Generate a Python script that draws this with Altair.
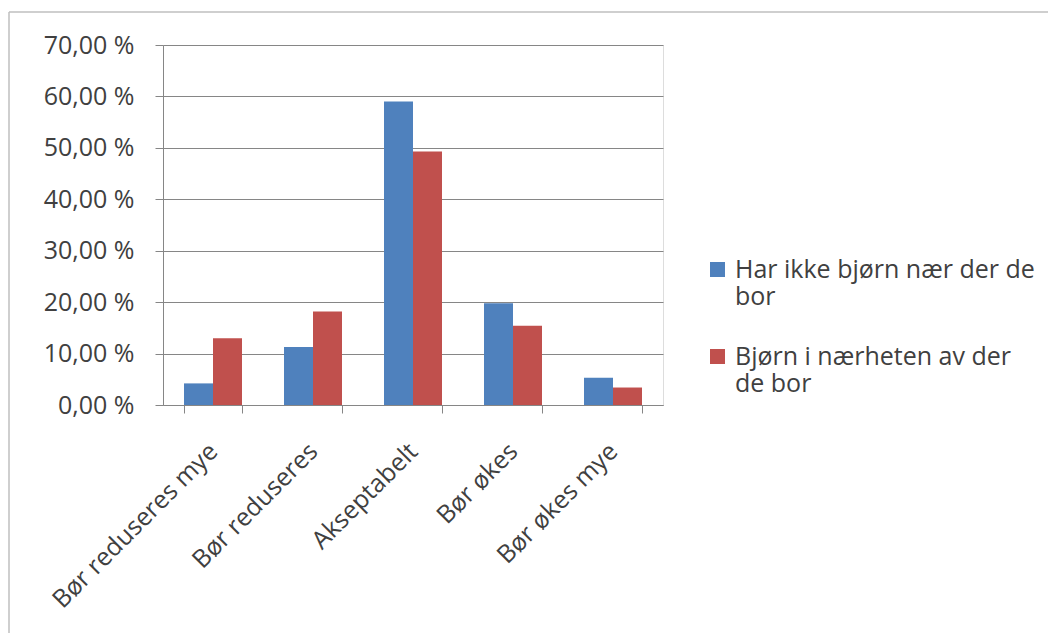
import altair as alt
import pandas as pd

categories = ["Bør reduseres mye", "Bør reduseres", "Akseptabelt", "Bør økes", "Bør økes mye"]
series = ["Har ikke bjørn nær der de bor", "Bjørn i nærheten av der de bor"]
har_ikke = [4.2, 11.3, 59.0, 19.8, 5.3]
naer = [13.0, 18.2, 49.3, 15.4, 3.4]
colors = ["#4F81BD", "#C0504D"]

rows = []
for i, c in enumerate(categories):
    rows.append({"kategori": c, "serie": series[0], "verdi": har_ikke[i]})
    rows.append({"kategori": c, "serie": series[1], "verdi": naer[i]})
df = pd.DataFrame(rows)

FONT = "Open Sans"
TXT = "#404040"
FS = 25

bars = alt.Chart(df).mark_bar().encode(
    x=alt.X("kategori:N", sort=categories, title=None,
            scale=alt.Scale(paddingInner=0.42, paddingOuter=0.21),
            axis=alt.Axis(labelAngle=-45, labelAlign="right", labelBaseline="middle",
                          labelPadding=34, tickBand="extent", tickSize=8, labelLimit=400,
                          domainColor="#868686", tickColor="#868686",
                          labelFont=FONT, labelFontSize=FS, labelColor=TXT, grid=False)),
    xOffset=alt.XOffset("serie:N", sort=series),
    y=alt.Y("verdi:Q", title=None,
            scale=alt.Scale(domain=[0, 70]),
            axis=alt.Axis(values=[0, 10, 20, 30, 40, 50, 60, 70],
                          labelExpr="replace(format(datum.value, '.2f'), '.', ',') + ' %'",
                          labelFont=FONT, labelFontSize=FS, labelColor=TXT,
                          tickSize=8, labelPadding=21,
                          domainColor="#868686", tickColor="#868686",
                          gridColor="#868686", gridWidth=1)),
    color=alt.Color("serie:N", sort=series,
                    scale=alt.Scale(domain=series, range=colors),
                    legend=alt.Legend(title=None, orient="none", legendX=542, legendY=212,
                                      symbolType="square", symbolSize=225, symbolStrokeWidth=0,
                                      labelFont=FONT, labelFontSize=FS, labelColor=TXT,
                                      labelExpr="datum.label == 'Har ikke bjørn nær der de bor' ? ['Har ikke bjørn nær der de', 'bor'] : ['Bjørn i nærheten av der', 'de bor']",
                                      labelLimit=400, rowPadding=34, padding=0, labelOffset=5)),
)

border = alt.Chart(pd.DataFrame({"a": [0]})).mark_rule(color="#BFBFBF", strokeWidth=1.5).encode(
    x=alt.value(-154), y=alt.value(-33), y2=alt.value(600)
)
border_top = alt.Chart(pd.DataFrame({"a": [0]})).mark_rule(color="#BFBFBF", strokeWidth=1.5).encode(
    x=alt.value(-154), x2=alt.value(890), y=alt.value(-33)
)

chart = alt.layer(bars, border, border_top).properties(
    width=500, height=360,
    autosize=alt.AutoSizeParams(type="none"),
    padding={"left": 155, "top": 37, "right": 385, "bottom": 228},
).configure_view(stroke=None).configure(background="white")

chart.save("out.html", embed_options={"renderer": "svg", "actions": False})
